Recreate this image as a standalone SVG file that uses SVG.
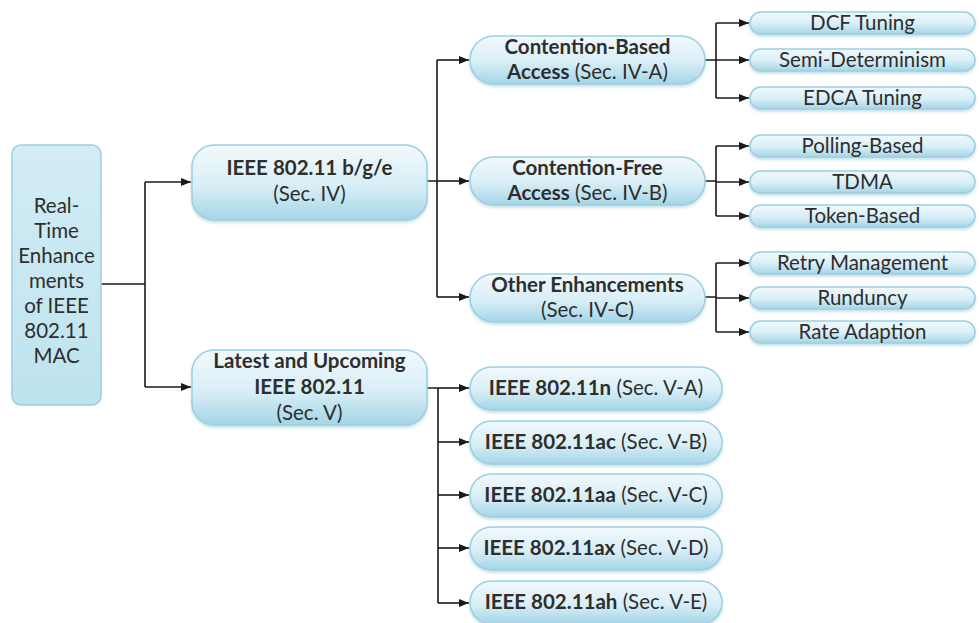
<svg xmlns="http://www.w3.org/2000/svg" width="979" height="623" viewBox="0 0 979 623">
<style>
text{font-family:Lato,"Open Sans","Liberation Sans",sans-serif;font-size:20.5px;fill:#2e2e2e;text-anchor:middle}
.b{font-weight:bold}
.box{fill:url(#g);stroke:#9ccfe1;stroke-width:1.5;filter:url(#sh)}
.root{fill:url(#gr);stroke:#9ccfe1;stroke-width:1.5}
.ln{fill:none;stroke:#1a1a1a;stroke-width:1.6}
.ar{fill:none;stroke:#1a1a1a;stroke-width:1.6;marker-end:url(#ah)}
</style>
<defs>
<linearGradient id="g" x1="0" y1="0" x2="0" y2="1">
<stop offset="0" stop-color="#f2f9fc"/>
<stop offset="0.55" stop-color="#d8eef6"/>
<stop offset="1" stop-color="#a4d5e7"/>
</linearGradient>
<linearGradient id="gr" x1="0" y1="0" x2="0" y2="1">
<stop offset="0" stop-color="#d3ecf5"/>
<stop offset="1" stop-color="#bde3ef"/>
</linearGradient>
<filter id="sh" x="-5%" y="-20%" width="110%" height="150%">
<feDropShadow dx="0" dy="2" stdDeviation="1.5" flood-color="#7fb8cc" flood-opacity="0.45"/>
</filter>
<marker id="ah" viewBox="0 0 10 10" refX="10" refY="5" markerWidth="10" markerHeight="10" markerUnits="userSpaceOnUse" orient="auto">
<path d="M0,1 L10,5 L0,9 z" fill="#1a1a1a"/>
</marker>
</defs>

<g id="connectors">
<path class="ln" d="M101,284 H145 M145,182 V387"/>
<path class="ar" d="M145,182 H191"/>
<path class="ar" d="M145,387 H191"/>
<path class="ln" d="M427,181 H437 M437,60 V297"/>
<path class="ar" d="M437,60 H469"/>
<path class="ar" d="M437,181 H469"/>
<path class="ar" d="M437,297 H469"/>
<path class="ln" d="M705,60 H716 M716,23 V98 M705,181 H716 M716,146 V216 M705,297 H716 M716,263 V332"/>
<path class="ar" d="M716,23 H749"/>
<path class="ar" d="M716,60 H749"/>
<path class="ar" d="M716,98 H749"/>
<path class="ar" d="M716,146 H749"/>
<path class="ar" d="M716,182 H749"/>
<path class="ar" d="M716,216 H749"/>
<path class="ar" d="M716,263 H749"/>
<path class="ar" d="M716,298 H749"/>
<path class="ar" d="M716,332 H749"/>
<path class="ln" d="M427,388 H438 M438,388 V603"/>
<path class="ar" d="M438,388 H469"/>
<path class="ar" d="M438,442 H469"/>
<path class="ar" d="M438,495 H469"/>
<path class="ar" d="M438,548 H469"/>
<path class="ar" d="M438,603 H469"/>
</g>

<g id="root">
<rect class="root" x="12" y="145" width="89" height="260" rx="9"/>
<text x="56.5" y="213">Real-</text>
<text x="56.5" y="238">Time</text>
<text x="56.5" y="263">Enhance</text>
<text x="56.5" y="288">ments</text>
<text x="56.5" y="313">of IEEE</text>
<text x="56.5" y="338">802.11</text>
<text x="56.5" y="363">MAC</text>
</g>

<g id="n-bge">
<rect class="box" x="192" y="145" width="235" height="75" rx="22"/>
<text class="b" x="309.5" y="175">IEEE 802.11 b/g/e</text>
<text x="309.5" y="201">(Sec. IV)</text>
</g>

<g id="n-latest">
<rect class="box" x="192" y="350" width="235" height="75" rx="22"/>
<text class="b" x="309.5" y="368">Latest and Upcoming</text>
<text class="b" x="309.5" y="394">IEEE 802.11</text>
<text x="309.5" y="420">(Sec. V)</text>
</g>

<g id="n-cb">
<rect class="box" x="470" y="36" width="235" height="48" rx="24"/>
<text x="587.5" y="54"><tspan class="b">Contention-Based</tspan></text>
<text x="587.5" y="79"><tspan class="b">Access</tspan> (Sec. IV-A)</text>
</g>

<g id="n-cf">
<rect class="box" x="470" y="157" width="235" height="48" rx="24"/>
<text x="587.5" y="175"><tspan class="b">Contention-Free</tspan></text>
<text x="587.5" y="200"><tspan class="b">Access</tspan> (Sec. IV-B)</text>
</g>

<g id="n-other">
<rect class="box" x="470" y="274" width="235" height="48" rx="24"/>
<text class="b" x="587.5" y="292">Other Enhancements</text>
<text x="587.5" y="317">(Sec. IV-C)</text>
</g>

<g id="l-dcf"><rect class="box" x="750" y="12" width="225" height="22" rx="11"/><text x="862.5" y="30">DCF Tuning</text></g>
<g id="l-semi"><rect class="box" x="750" y="49" width="225" height="22" rx="11"/><text x="862.5" y="67">Semi-Determinism</text></g>
<g id="l-edca"><rect class="box" x="750" y="87" width="225" height="22" rx="11"/><text x="862.5" y="105">EDCA Tuning</text></g>
<g id="l-poll"><rect class="box" x="750" y="135" width="225" height="22" rx="11"/><text x="862.5" y="153">Polling-Based</text></g>
<g id="l-tdma"><rect class="box" x="750" y="171" width="225" height="22" rx="11"/><text x="862.5" y="189">TDMA</text></g>
<g id="l-token"><rect class="box" x="750" y="205" width="225" height="22" rx="11"/><text x="862.5" y="223">Token-Based</text></g>
<g id="l-retry"><rect class="box" x="750" y="252" width="225" height="22" rx="11"/><text x="862.5" y="270">Retry Management</text></g>
<g id="l-rund"><rect class="box" x="750" y="287" width="225" height="22" rx="11"/><text x="862.5" y="305">Runduncy</text></g>
<g id="l-rate"><rect class="box" x="750" y="321" width="225" height="22" rx="11"/><text x="862.5" y="339">Rate Adaption</text></g>

<g id="v-n"><rect class="box" x="470" y="367" width="252" height="43" rx="21.5"/><text x="596" y="395"><tspan class="b">IEEE 802.11n</tspan> (Sec. V-A)</text></g>
<g id="v-ac"><rect class="box" x="470" y="421" width="252" height="43" rx="21.5"/><text x="596" y="449"><tspan class="b">IEEE 802.11ac</tspan> (Sec. V-B)</text></g>
<g id="v-aa"><rect class="box" x="470" y="474" width="252" height="43" rx="21.5"/><text x="596" y="502"><tspan class="b">IEEE 802.11aa</tspan> (Sec. V-C)</text></g>
<g id="v-ax"><rect class="box" x="470" y="527" width="252" height="43" rx="21.5"/><text x="596" y="555"><tspan class="b">IEEE 802.11ax</tspan> (Sec. V-D)</text></g>
<g id="v-ah"><rect class="box" x="470" y="581" width="252" height="43" rx="21.5"/><text x="596" y="609"><tspan class="b">IEEE 802.11ah</tspan> (Sec. V-E)</text></g>
</svg>
